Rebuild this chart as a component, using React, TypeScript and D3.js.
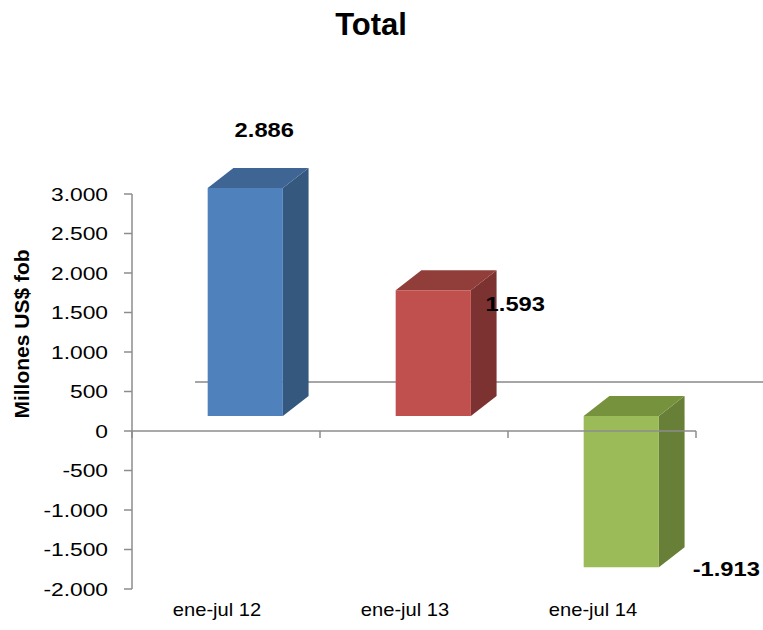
import React from "react";
import * as d3 from "d3";

// ---- data ----
const categories = ["ene-jul 12", "ene-jul 13", "ene-jul 14"];
const values = [2886, 1593, -1913];
const yTicks = [-2000, -1500, -1000, -500, 0, 500, 1000, 1500, 2000, 2500, 3000];
const title = "Total";
const yTitle = "Millones US$ fob";

// ---- styles ----
const frontColors = ["#4F81BD", "#C0504D", "#9BBB59"];
const topColors = ["#3E6594", "#913D3A", "#77923C"];
const sideColors = ["#35587F", "#7C3230", "#677F37"];
// label offsets relative to bar end (front-face center, front-face end y)
const labelOffsets = [
  { dx: 19, dy: -51 },
  { dx: 82, dy: 21 },
  { dx: 105, dy: 9 },
];

const W = 763;
const H = 630;

const locale = d3.formatLocale({
  decimal: ",",
  thousands: ".",
  grouping: [3],
  currency: ["$", ""],
  minus: "-",
});
const fmt = locale.format(",");

export default function App() {
  const y = d3.scaleLinear().domain([-2000, 3000]).range([589, 194]);
  const x = d3.scaleBand().domain(categories).range([132, 696]).padding(0);
  const depthX = 63;
  const depthY = -49;
  const tFront = 0.306;
  const tBack = 0.714;
  const barW = x.bandwidth() * 0.4;
  const axisColor = "#8c8c8c";
  const font = "'Liberation Sans', Arial, sans-serif";

  const pt = (px: number, v: number, t: number) => [px + depthX * t, y(v) + depthY * t];
  const poly = (pts: number[][]) => pts.map((p) => p.join(",")).join(" ");

  return (
    <svg
      width={W}
      height={H}
      style={{ position: "absolute", left: 0, top: 0, background: "#fff" }}
      fontFamily={font}
    >
      <rect x={0} y={0} width={W} height={H} fill="#fff" />
      {/* title */}
      <text x={371} y={35} textAnchor="middle" fontSize={31} fontWeight="bold" fill="#000">
        {title}
      </text>

      {/* back floor line at 0 */}
      <line
        x1={x.range()[0] + depthX}
        x2={W}
        y1={y(0) + depthY}
        y2={y(0) + depthY}
        stroke="#a6a6a6"
        strokeWidth={2}
      />

      {/* bars */}
      {categories.map((c, i) => {
        const v = values[i];
        const top = Math.max(v, 0);
        const bot = Math.min(v, 0);
        const cx = (x(c) as number) + x.bandwidth() / 2;
        const l = cx - barW / 2;
        const r = cx + barW / 2;
        const front = [pt(l, top, tFront), pt(r, top, tFront), pt(r, bot, tFront), pt(l, bot, tFront)];
        const topFace = [pt(l, top, tFront), pt(r, top, tFront), pt(r, top, tBack), pt(l, top, tBack)];
        const side = [pt(r, top, tFront), pt(r, top, tBack), pt(r, bot, tBack), pt(r, bot, tFront)];
        return (
          <g key={c}>
            <polygon points={poly(side)} fill={sideColors[i]} />
            <polygon points={poly(topFace)} fill={topColors[i]} />
            <polygon points={poly(front)} fill={frontColors[i]} />
          </g>
        );
      })}

      {/* y axis */}
      <line x1={132} x2={132} y1={y(3000)} y2={y(-2000)} stroke={axisColor} strokeWidth={1.5} />
      {yTicks.map((t) => (
        <g key={t}>
          <line x1={124} x2={132} y1={y(t)} y2={y(t)} stroke={axisColor} strokeWidth={1.5} />
          <text
            transform={`translate(108,${y(t) + 6.6}) scale(1.2,1)`}
            textAnchor="end"
            fontSize={19}
            fill="#000"
          >
            {fmt(t)}
          </text>
        </g>
      ))}

      {/* x axis (front, at 0) */}
      <line x1={x.range()[0]} x2={x.range()[1]} y1={y(0)} y2={y(0)} stroke={axisColor} strokeWidth={1.5} />
      {[...categories.map((c) => x(c) as number), x.range()[1]].map((tx, i) => (
        <line key={i} x1={tx} x2={tx} y1={y(0)} y2={y(0) + 7} stroke={axisColor} strokeWidth={1.5} />
      ))}
      {categories.map((c) => (
        <text
          key={c}
          transform={`translate(${(x(c) as number) + x.bandwidth() / 2 - 9},616) scale(1.15,1)`}
          textAnchor="middle"
          fontSize={17.5}
          fill="#000"
        >
          {c}
        </text>
      ))}

      {/* value labels */}
      {categories.map((c, i) => {
        const v = values[i];
        const cx = (x(c) as number) + x.bandwidth() / 2 + depthX * tFront;
        const endY = y(v) + depthY * tFront;
        return (
          <text
            key={c}
            transform={`translate(${cx + labelOffsets[i].dx},${endY + labelOffsets[i].dy}) scale(1.13,1)`}
            textAnchor="middle"
            fontSize={21}
            fontWeight="bold"
            fill="#000"
          >
            {fmt(v)}
          </text>
        );
      })}

      {/* y axis title */}
      <text
        transform={`translate(29,334) rotate(-90)`}
        textAnchor="middle"
        fontSize={21}
        fontWeight="bold"
        fill="#000"
      >
        {yTitle}
      </text>
    </svg>
  );
}
